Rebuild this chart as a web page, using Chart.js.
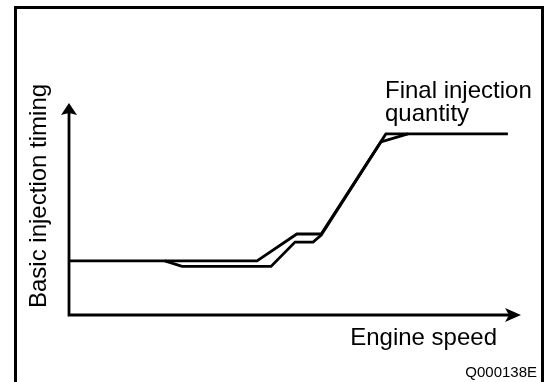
<!DOCTYPE html>
<html>
<head>
<meta charset="utf-8">
<title>Basic injection timing</title>
<script src="https://cdn.jsdelivr.net/npm/chart.js@4/dist/chart.umd.min.js"></script>
<style>
    html, body { margin: 0; padding: 0; background: #fff; }
    #wrap { position: relative; width: 547px; height: 382px; }
</style>
</head>
<body>
<div id="wrap"><canvas id="chart" width="547" height="382"></canvas></div>
<script>
/* ================= DATA ================= */
// axes run 0..100 in both directions (arrow tip = 100)
const speedBasic  = [0, 41.6, 50.4, 55.8, 70.1, 97.1];
const timingBasic = [25.5, 25.5, 38.2, 38.2, 85.4, 85.4];

const speedFinal  = [21.2, 25.0, 44.7, 50.0, 54.0, 55.8, 69.0, 75.0];
const timingFinal = [25.5, 22.9, 22.9, 34.4, 34.4, 37.7, 81.6, 85.4];

const axisTitleX = "Engine speed";
const axisTitleY = "Basic injection timing";
const curveLabel = ["Final injection", "quantity"];
const figureCode = "Q000138E";

const toPoints = (xs, ys) => xs.map((x, i) => ({ x: x, y: ys[i] }));

/* ================= FRAME, AXES, TEXT ================= */
const drawing = {
    id: "drawing",
    afterDraw(chart) {
        const ctx = chart.ctx;
        const xs = chart.scales.x, ys = chart.scales.y;
        const x0 = xs.getPixelForValue(0), xEnd = xs.getPixelForValue(100);
        const y0 = ys.getPixelForValue(0), yEnd = ys.getPixelForValue(100);

        ctx.save();
        ctx.strokeStyle = "#000";
        ctx.fillStyle = "#000";

        // outer frame (open at the bottom edge of the picture)
        ctx.lineWidth = 3;
        ctx.beginPath();
        ctx.moveTo(15.5, 390);
        ctx.lineTo(15.5, 7.5);
        ctx.lineTo(542.5, 7.5);
        ctx.lineTo(542.5, 390);
        ctx.stroke();

        // axes
        ctx.lineWidth = 2.8;
        ctx.lineCap = "butt";
        ctx.beginPath();
        ctx.moveTo(x0, yEnd + 10);
        ctx.lineTo(x0, y0 + 1.4);
        ctx.moveTo(x0 - 1.4, y0);
        ctx.lineTo(xEnd - 12, y0);
        ctx.stroke();

        // arrow heads
        ctx.beginPath();
        ctx.moveTo(xEnd, y0);
        ctx.lineTo(xEnd - 16, y0 - 7);
        ctx.lineTo(xEnd - 12, y0);
        ctx.lineTo(xEnd - 16, y0 + 7);
        ctx.closePath();
        ctx.fill();

        ctx.beginPath();
        ctx.moveTo(x0, yEnd);
        ctx.lineTo(x0 - 8, yEnd + 12);
        ctx.lineTo(x0, yEnd + 10);
        ctx.lineTo(x0 + 8, yEnd + 12);
        ctx.closePath();
        ctx.fill();

        // texts
        ctx.font = "24px 'Liberation Sans', Arial, sans-serif";
        ctx.textBaseline = "alphabetic";
        ctx.textAlign = "right";
        ctx.fillText(axisTitleX, 497, 345);

        ctx.textAlign = "left";
        ctx.fillText(curveLabel[0], 385, 98);
        ctx.fillText(curveLabel[1], 385, 121);

        ctx.save();
        ctx.translate(46, 308);
        ctx.rotate(-Math.PI / 2);
        ctx.fillText(axisTitleY, 0, 0);
        ctx.restore();

        ctx.font = "15px 'Liberation Sans', Arial, sans-serif";
        ctx.textAlign = "right";
        ctx.fillText(figureCode, 537, 377);

        ctx.restore();
    }
};

/* ================= CHART ================= */
new Chart(document.getElementById("chart"), {
    type: "scatter",
    data: {
        datasets: [
            {
                label: "Basic injection timing",
                data: toPoints(speedBasic, timingBasic),
                showLine: true,
                borderColor: "#000",
                borderWidth: 2.8,
                pointRadius: 0,
                tension: 0,
                fill: false
            },
            {
                label: "Final injection quantity",
                data: toPoints(speedFinal, timingFinal),
                showLine: true,
                borderColor: "#000",
                borderWidth: 2.8,
                pointRadius: 0,
                tension: 0,
                fill: false
            }
        ]
    },
    options: {
        responsive: false,
        animation: false,
        clip: false,
        layout: { padding: { left: 69, right: 26, top: 103, bottom: 67 } },
        plugins: {
            legend: { display: false },
            tooltip: { enabled: false }
        },
        scales: {
            x: { type: "linear", min: 0, max: 100, display: false },
            y: { type: "linear", min: 0, max: 100, display: false }
        }
    },
    plugins: [drawing]
});
</script>
</body>
</html>
